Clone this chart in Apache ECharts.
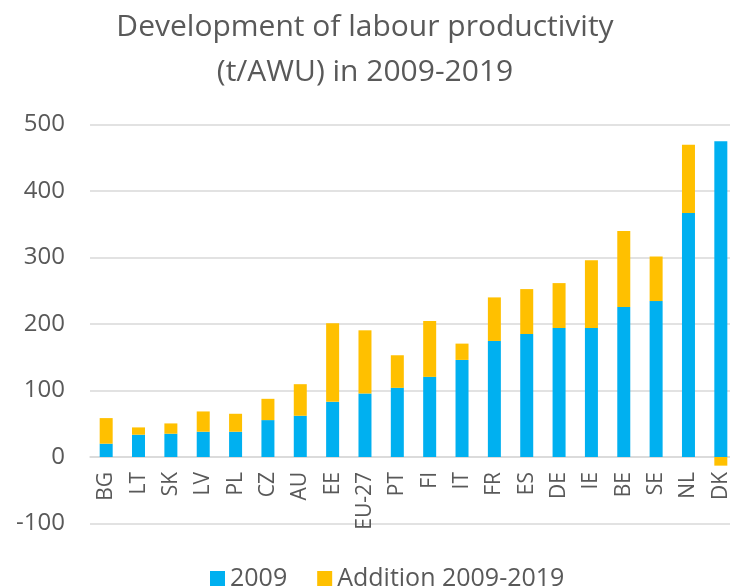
<!DOCTYPE html>
<html>
<head>
<meta charset="utf-8">
<script src="https://cdn.jsdelivr.net/npm/echarts@6/dist/echarts.min.js"></script>
<style>
html,body{margin:0;padding:0;background:#fff;}
#main{width:730px;height:587px;}
</style>
</head>
<body>
<div id="main"></div>
<script>
const categories = ['BG','LT','SK','LV','PL','CZ','AU','EE','EU-27','PT','FI','IT','FR','ES','DE','IE','BE','SE','NL','DK'];
const values2009 = [20, 33.5, 35, 38, 38, 55.5, 62, 83, 95.5, 104, 120.5, 146, 174.5, 185, 194, 194, 225.5, 234.5, 367, 475];
const addition = [38.5, 11, 15.5, 30.5, 27, 32, 47.5, 118, 95, 49, 84, 24.5, 65.5, 67.5, 67.5, 102, 114.5, 67, 102.5, -13];
const yTicks = { min: -100, max: 500, interval: 100 };
const seriesNames = ['2009', 'Addition 2009-2019'];
const titleText = 'Development of labour productivity\n(t/AWU) in 2009-2019';

const FONT = 'Open Sans';
const TXT = '#595959';
const chart = echarts.init(document.getElementById('main'));
chart.setOption({
  backgroundColor: '#ffffff',
  animation: false,
  title: {
    text: titleText,
    left: 'center',
    top: 0,
    textStyle: { fontFamily: FONT, fontSize: 30, fontWeight: 'normal', color: TXT, lineHeight: 45 }
  },
  legend: {
    data: seriesNames,
    left: 205,
    top: 561,
    icon: 'rect',
    itemWidth: 15,
    itemHeight: 15,
    itemGap: 30,
    textStyle: { fontFamily: FONT, fontSize: 25, color: TXT }
  },
  grid: { left: 90, top: 124.5, width: 647, height: 399, containLabel: false, outerBoundsMode: 'none' },
  xAxis: {
    type: 'category',
    data: categories,
    position: 'bottom',
    offset: -66.5,
    axisTick: { show: false },
    axisLine: { onZero: false, lineStyle: { color: '#D9D9D9', width: 1.5 } },
    axisLabel: { rotate: 90, margin: 15, fontFamily: FONT, fontSize: 21, color: TXT, interval: 0 }
  },
  yAxis: {
    type: 'value',
    min: yTicks.min,
    max: yTicks.max,
    interval: yTicks.interval,
    axisLine: { show: false },
    axisTick: { show: false },
    splitLine: { lineStyle: { color: '#D9D9D9', width: 1.5 } },
    axisLabel: { margin: 25, fontFamily: FONT, fontSize: 24, color: TXT }
  },
  series: [
    { name: seriesNames[0], type: 'bar', stack: 'total', data: values2009, barWidth: 13,
      itemStyle: { color: '#00B0F0' } },
    { name: seriesNames[1], type: 'bar', stack: 'total', data: addition, barWidth: 13,
      itemStyle: { color: '#FFC000' } }
  ]
});
</script>
</body>
</html>
